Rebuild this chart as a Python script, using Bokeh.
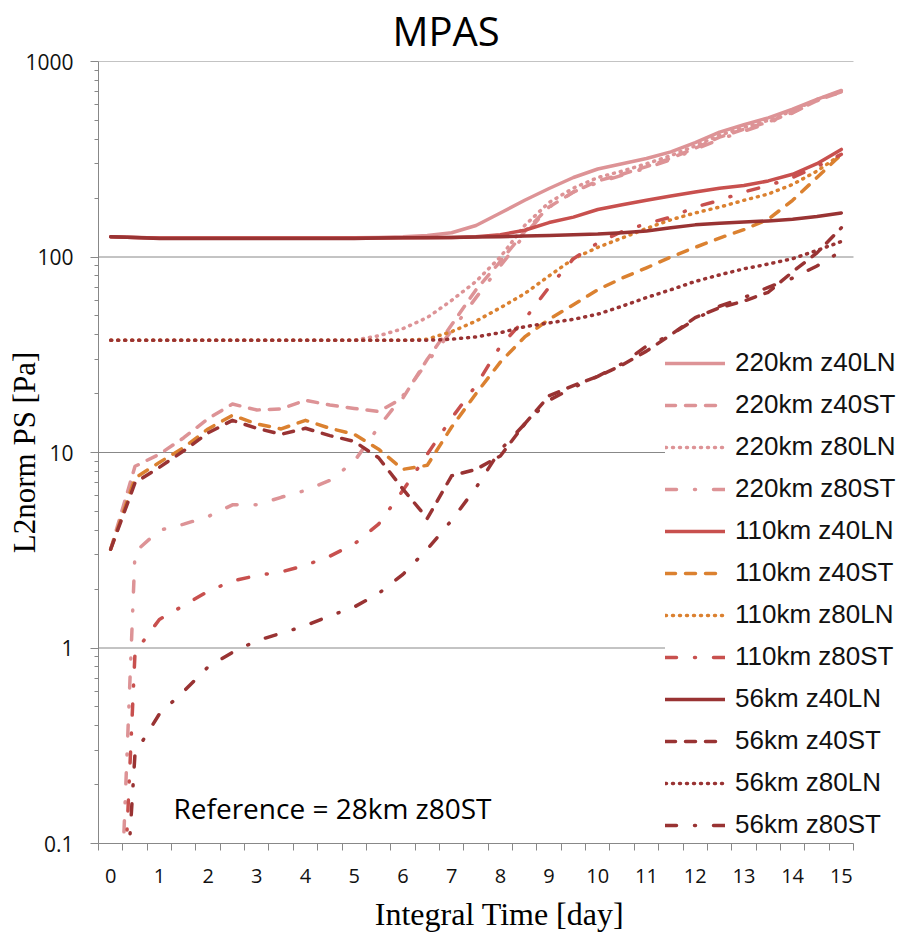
from bokeh.plotting import figure
from bokeh.models import Range1d, FixedTicker, NumeralTickFormatter, Legend, LegendItem, Label
from bokeh.embed import file_html
from bokeh.resources import INLINE

# ---------------- data ----------------
days = [0, 0.5, 1, 1.5, 2, 2.5, 3, 3.5, 4, 4.5, 5, 5.5, 6, 6.5, 7, 7.5,
        8, 8.5, 9, 9.5, 10, 10.5, 11, 11.5, 12, 12.5, 13, 13.5, 14, 14.5, 15]
x_tick_labels = ["0", "1", "2", "3", "4", "5", "6", "7", "8", "9", "10", "11", "12", "13", "14", "15"]
x_tick_values = [0, 1, 2, 3, 4, 5, 6, 7, 8, 9, 10, 11, 12, 13, 14, 15]
y_tick_values = [0.1, 1, 10, 100, 1000]

s220_z40LN = [127, 126, 125, 125, 125, 125, 125, 125, 125, 125, 125.5, 126, 127, 129, 133, 145,
              168, 195, 224, 255, 282, 300, 319, 345, 385, 435, 475, 515, 570, 640, 711]
s220_z40ST = [3.2, 8.5, 9.8, 11.9, 14.9, 17.7, 16.5, 16.7, 18.5, 17.5, 16.8, 16.2, 19, 30, 45, 68,
              95, 135, 180, 215, 245, 265, 290, 320, 360, 410, 450, 490, 550, 630, 700]
s220_z80LN = [37.5, 37.5, 37.5, 37.5, 37.5, 37.5, 37.5, 37.5, 37.5, 37.5, 37.5, 39.5, 43, 49, 60, 75,
              100, 145, 190, 225, 255, 275, 300, 330, 370, 420, 460, 500, 560, 640, 705]
s220_z80ST = [0.0022, 3.1, 4.0, 4.3, 4.7, 5.4, 5.4, 5.9, 6.4, 7.2, 9.0, 13.5, 19.5, 29, 42, 62,
              90, 130, 180, 215, 240, 262, 285, 315, 355, 400, 440, 485, 545, 630, 700]
s110_z40LN = [127, 126, 125, 125, 125, 125, 125, 125, 125, 125, 125, 125, 125.5, 126, 126, 127,
              130, 137, 150, 160, 175, 185, 195, 205, 215, 225, 232, 245, 265, 300, 355]
s110_z40ST = [3.2, 7.4, 8.9, 10.6, 13.2, 15.5, 14.0, 13.2, 14.6, 13.3, 12.4, 10.4, 8.2, 8.6, 13.5, 20,
              29, 39, 48, 57, 68, 78, 88, 100, 112, 125, 138, 156, 195, 255, 335]
s110_z80LN = [37.5, 37.5, 37.5, 37.5, 37.5, 37.5, 37.5, 37.5, 37.5, 37.5, 37.5, 37.5, 37.5, 38, 41.5, 47,
              55, 65, 80, 98, 112, 125, 140, 155, 168, 180, 195, 210, 235, 275, 335]
s110_z80ST = [0.0016, 0.95, 1.4, 1.65, 1.95, 2.2, 2.35, 2.45, 2.65, 2.95, 3.4, 4.3, 6.4, 9.8, 15, 22,
              35, 48, 70, 98, 118, 135, 148, 160, 180, 195, 215, 232, 255, 290, 335]
s56_z40LN = [127, 126, 124.5, 124.5, 124.5, 124.5, 124.5, 124.5, 124.5, 124.5, 124.5, 125, 125.5, 125.5, 126, 126.5,
             127, 128, 129, 130, 131, 133, 136, 141, 146, 149, 151, 153, 156, 161, 168]
s56_z40ST = [3.2, 7.0, 8.4, 10.2, 12.6, 14.6, 13.3, 12.4, 13.3, 12.2, 11.4, 9.4, 6.5, 4.6, 7.6, 8.2,
             9.6, 14, 19.5, 22, 24.5, 28, 33, 40, 49, 55, 59.5, 66, 84, 105, 141]
s56_z80LN = [37.5, 37.5, 37.5, 37.5, 37.5, 37.5, 37.5, 37.5, 37.5, 37.5, 37.5, 37.5, 37.5, 37.5, 38, 39,
             41, 44, 46, 48, 51, 56, 62, 68, 75, 81, 87, 92, 98, 108, 120]
s56_z80ST = [0.0027, 0.29, 0.46, 0.6, 0.8, 0.95, 1.09, 1.19, 1.3, 1.46, 1.62, 1.9, 2.38, 3.2, 4.5, 6.6,
             10.3, 14, 18.5, 21.5, 24.5, 28.5, 35, 40, 48, 56, 62, 70, 78, 90, 107]

series_names = ["220km z40LN", "220km z40ST", "220km z80LN", "220km z80ST",
                "110km z40LN", "110km z40ST", "110km z80LN", "110km z80ST",
                "56km z40LN", "56km z40ST", "56km z80LN", "56km z80ST"]
series_values = [s220_z40LN, s220_z40ST, s220_z80LN, s220_z80ST,
                 s110_z40LN, s110_z40ST, s110_z80LN, s110_z80ST,
                 s56_z40LN, s56_z40ST, s56_z80LN, s56_z80ST]

# ---------------- styles ----------------
PINK = "#DD9396"
RED = "#C8504E"
ORANGE = "#DB8130"
DARK = "#993333"
SOLID, DASH, DOT, DASHDOT = "solid", "10 10", "1 6", "11 18 1 18"
series_colors = [PINK, PINK, PINK, PINK, RED, ORANGE, ORANGE, RED, DARK, DARK, DARK, DARK]
series_dashes = [SOLID, DASH, DOT, DASHDOT] * 3

TICK_FONT = "Open Sans"
GRAY = "#888888"
X_START, X_END, X_VIEW_END = -0.25, 15.25, 16.215

p = figure(width=900, height=934, output_backend="svg", toolbar_location=None,
           y_axis_type="log", x_range=Range1d(X_START, X_VIEW_END), y_range=Range1d(0.1, 1000),
           min_border_left=98, min_border_right=0, min_border_top=60, min_border_bottom=91)
p.outline_line_color = None
p.background_fill_color = "white"

# title
p.title.text = "MPAS"
p.title.align = "left"
p.title.offset = 294
p.title.vertical_align = "top"
p.title.text_font = TICK_FONT
p.title.text_font_size = "40px"
p.title.text_font_style = "normal"
p.title.text_color = "black"
p.title.standoff = 4

# x axis
xminor = [X_START + 0.5 * k for k in range(32)]
p.xaxis.bounds = (X_START, X_END)
p.xaxis.ticker = FixedTicker(ticks=x_tick_values, minor_ticks=xminor)
p.xaxis.major_label_overrides = {v: t for v, t in zip(x_tick_values, x_tick_labels)}
p.xaxis.axis_line_color = GRAY
p.xaxis.major_tick_line_color = None
p.xaxis.major_tick_out = 7
p.xaxis.major_tick_in = 0
p.xaxis.minor_tick_line_color = GRAY
p.xaxis.minor_tick_out = 7
p.xaxis.minor_tick_in = 0
p.xaxis.major_label_text_font = TICK_FONT
p.xaxis.major_label_text_font_size = "20px"
p.xaxis.major_label_text_color = "#111111"
p.xaxis.major_label_standoff = 18
p.xaxis.axis_label = "Integral Time [day]"
p.xaxis.axis_label_text_font = "Liberation Serif"
p.xaxis.axis_label_text_font_size = "32px"
p.xaxis.axis_label_text_font_style = "normal"
p.xaxis.axis_label_text_color = "black"
p.xaxis.axis_label_standoff = 10
p.xgrid.visible = False

# y axis
yminor = [m * d for d in [0.1, 1, 10, 100] for m in [2, 3, 4, 5, 6, 7, 8, 9]]
p.yaxis.ticker = FixedTicker(ticks=y_tick_values, minor_ticks=yminor)
p.yaxis.formatter = NumeralTickFormatter(format="0.[0]")
p.yaxis.axis_line_color = GRAY
p.yaxis.major_tick_line_color = GRAY
p.yaxis.major_tick_out = 8
p.yaxis.major_tick_in = 0
p.yaxis.minor_tick_line_color = GRAY
p.yaxis.minor_tick_out = 4
p.yaxis.minor_tick_in = 0
p.yaxis.major_label_text_font = TICK_FONT
p.yaxis.major_label_text_font_size = "21px"
p.yaxis.major_label_text_color = "#111111"
p.yaxis.major_label_standoff = 17
p.yaxis.axis_label = "L2norm PS [Pa]"
p.yaxis.axis_label_text_font = "Liberation Serif"
p.yaxis.axis_label_text_font_size = "31px"
p.yaxis.axis_label_text_font_style = "normal"
p.yaxis.axis_label_text_color = "black"
p.yaxis.axis_label_standoff = -20
p.ygrid.visible = False

# horizontal grid lines at the decades, limited to the plot area
p.segment(x0=[X_START] * len(y_tick_values), x1=[X_END] * len(y_tick_values),
          y0=y_tick_values, y1=y_tick_values, line_color=GRAY, line_width=1, level="underlay")

# lines
items = []
for name, vals, col, dash in zip(series_names, series_values, series_colors, series_dashes):
    r = p.line(days, vals, line_color=col, line_width=3.5, line_dash=dash,
               line_cap="round", line_join="round")
    items.append(LegendItem(label=name, renderers=[r]))

legend = Legend(items=items, location=(567, 3),
                label_text_font="Liberation Sans", label_text_font_size="26px",
                label_text_color="#111111",
                glyph_width=60, glyph_height=20, label_height=20, label_standoff=10,
                spacing=11, padding=3, margin=0,
                border_line_color=None, background_fill_color="white", background_fill_alpha=1.0)
p.add_layout(legend, "center")

p.add_layout(Label(x=1.29, y=0.1527, text="Reference = 28km z80ST", text_font=TICK_FONT,
                   text_font_size="28px", text_align="left", text_baseline="middle", text_color="black"))

open("out.html", "w").write(file_html(p, INLINE))
